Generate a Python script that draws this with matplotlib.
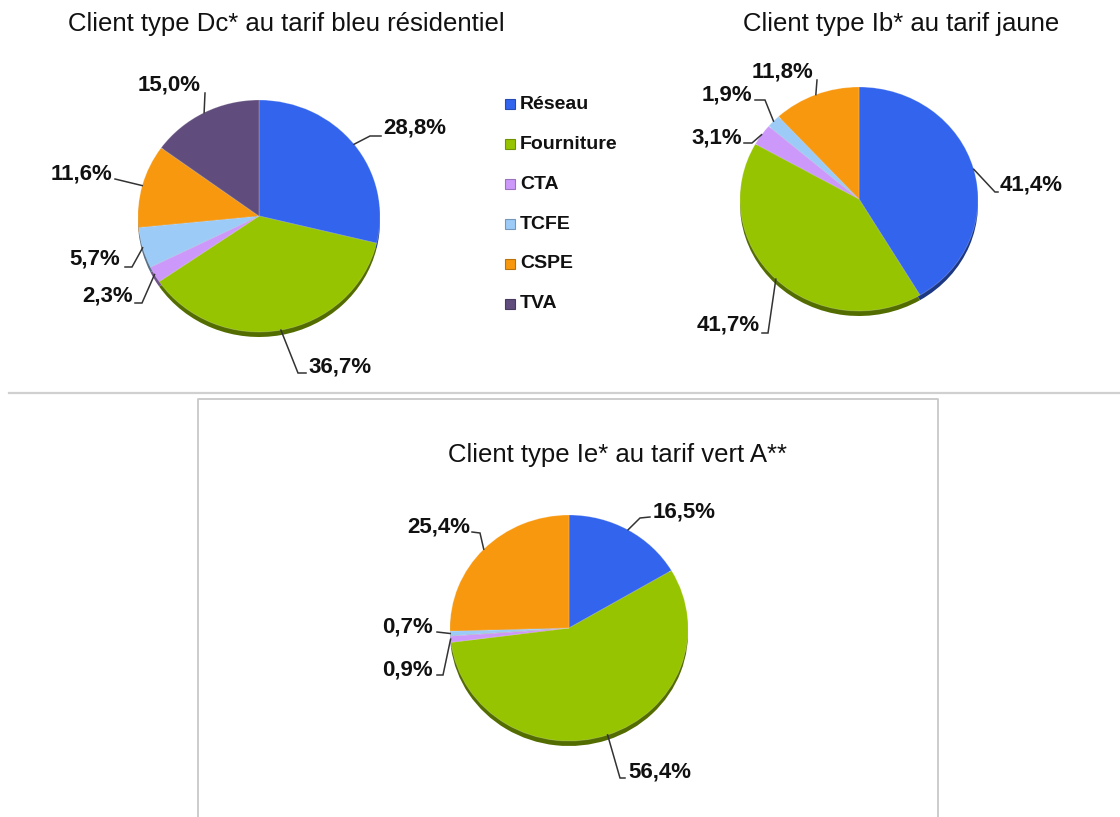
import numpy as np
import matplotlib.pyplot as plt
from matplotlib.colors import to_rgb

W, H = 1120, 817
plt.rcParams['font.family'] = ['Liberation Sans', 'DejaVu Sans']

# Données
categories = ['Réseau', 'Fourniture', 'CTA', 'TCFE', 'CSPE', 'TVA']
colors = ['#3364EE', '#96C400', '#CC99FA', '#9CCBF8', '#F8980F', '#604D7D']

bleu_vals = [28.8, 36.7, 2.3, 5.7, 11.6, 15.0]
jaune_vals = [41.4, 41.7, 3.1, 1.9, 11.8]
vert_vals = [16.5, 56.4, 0.9, 0.7, 25.4]

titles = ['Client type Dc* au tarif bleu résidentiel',
          'Client type Ib* au tarif jaune',
          'Client type Ie* au tarif vert A**']

# Mise en page des étiquettes (pixels image): texte x, y, alignement, coude, extrémité
bleu_lbl = [(383, 128, 'left', (370, 136), (381, 136)),
            (308, 367, 'left', (298, 373), (306, 373)),
            (133, 296, 'right', (142, 303), (135, 303)),
            (120, 259, 'right', (132, 267), (125, 267)),
            (112, 174, 'right', None, (115, 179)),
            (201, 85, 'right', None, (205, 93))]
jaune_lbl = [(1000, 185, 'left', (995, 192), (998, 192)),
             (760, 325, 'right', (768, 333), (762, 333)),
             (742, 138, 'right', (752, 143), (744, 143)),
             (752, 95, 'right', (765, 100), (755, 100)),
             (813, 72, 'right', None, (817, 80))]
vert_lbl = [(653, 512, 'left', (640, 518), (650, 517)),
            (628, 772, 'left', (620, 778), (625, 778)),
            (433, 670, 'right', (443, 675), (437, 675)),
            (433, 627, 'right', None, (437, 632)),
            (470, 527, 'right', (480, 533), (472, 532))]

M = 1.1  # marge autour du disque dans chaque axe


def px_axes(fig, cx, cy, rx, ry):
    rx, ry = rx * M, ry * M
    ax = fig.add_axes([(cx - rx) / W, 1 - (cy + ry) / H, 2 * rx / W, 2 * ry / H])
    return ax


def finish(ax):
    ax.set_aspect('auto')
    ax.set_xlim(-M, M)
    ax.set_ylim(-M, M)
    ax.axis('off')


def darker(c, f=0.55):
    return tuple(v * f for v in to_rgb(c))


def draw_pie(fig, ax0, vals, cx, cy, rx, ry, layout):
    cols = colors[:len(vals)]
    # rebord 3D
    axr = px_axes(fig, cx, cy + 5, rx, ry)
    axr.pie(vals, colors=[darker(c) for c in cols], startangle=90, counterclock=False,
            wedgeprops=dict(linewidth=0, clip_on=False))
    finish(axr)
    ax = px_axes(fig, cx, cy, rx, ry)
    ax.pie(vals, colors=cols, startangle=90, counterclock=False,
           wedgeprops=dict(linewidth=0.6, edgecolor=(1, 1, 1, 0.25), clip_on=False))
    finish(ax)

    total = sum(vals)
    start = 90.0
    for v, (tx, ty, ha, knee, end) in zip(vals, layout):
        span = 360.0 * v / total
        mid = np.radians(start - span / 2)
        start -= span
        ex, ey = cx + rx * np.cos(mid), cy - ry * np.sin(mid)
        pts = [(ex, ey)] + ([knee] if knee else []) + [end]
        xs, ys = zip(*pts)
        ax0.plot(xs, ys, color='#333333', lw=1.1, solid_joinstyle='miter')
        ax0.text(tx, ty, f'{v:.1f}%'.replace('.', ','), ha=ha, va='center',
                 fontsize=16, fontweight='bold', color='#111111')


fig = plt.figure(figsize=(W / 100, H / 100), dpi=100)
fig.patch.set_facecolor('white')

ax0 = fig.add_axes([0, 0, 1, 1], zorder=10)
ax0.set_xlim(0, W)
ax0.set_ylim(H, 0)
ax0.axis('off')
ax0.patch.set_visible(False)

draw_pie(fig, ax0, bleu_vals, 259, 216, 121, 116, bleu_lbl)
draw_pie(fig, ax0, jaune_vals, 859, 199, 119, 112, jaune_lbl)
draw_pie(fig, ax0, vert_vals, 569, 628, 119, 113, vert_lbl)

# titres
ax0.text(286, 24, titles[0], ha='center', va='center', fontsize=18.5, color='#111111')
ax0.text(901, 24, titles[1], ha='center', va='center', fontsize=18.5, color='#111111')
ax0.text(617, 455, titles[2], ha='center', va='center', fontsize=18.5, color='#111111')

# légende
for i, (name, c) in enumerate(zip(categories, colors)):
    y = 104 + 40 * i
    ax0.plot([510], [y], marker='s', ms=7, color=c, mec=darker(c, 0.75), mew=0.8)
    ax0.text(520, y, name, ha='left', va='center', fontsize=14, fontweight='bold', color='#111111')

# cadres
ax0.plot([9, W], [393, 393], color='#D0D0D0', lw=1.6)
ax0.plot([198, 198, 938, 938], [H, 399, 399, H], color='#C8C8C8', lw=1.3)

fig.savefig('out.png', dpi=100, facecolor='white')
